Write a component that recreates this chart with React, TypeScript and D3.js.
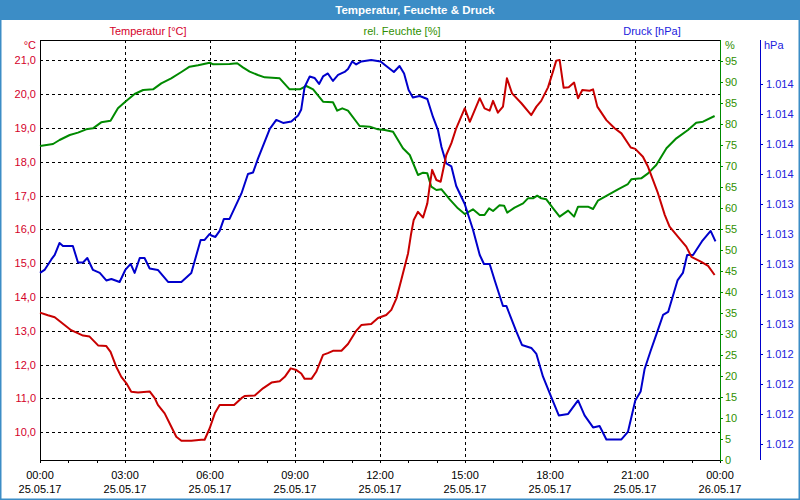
import React from "react";
import * as d3 from "d3";

// time in hours since 25.05.17 00:00, value
const temperature: [number, number][] = [
  [0,13.54],[0.28,13.46],[0.52,13.40],[1.10,13.02],[1.52,12.86],[1.75,12.83],[2.05,12.57],[2.34,12.55],[2.49,12.38],[2.69,11.94],[2.87,11.64],[3.05,11.45],[3.22,11.20],[3.46,11.18],[3.87,11.21],[4.05,11.01],[4.16,10.81],[4.40,10.56],[4.63,10.17],[4.81,9.87],[4.99,9.75],[5.34,9.75],[5.69,9.78],[5.81,9.78],[5.99,10.12],[6.17,10.56],[6.34,10.81],[6.85,10.81],[7.11,11.01],[7.22,11.07],[7.58,11.09],[7.87,11.30],[8.17,11.47],[8.46,11.51],[8.64,11.64],[8.85,11.89],[9.05,11.84],[9.22,11.74],[9.34,11.58],[9.58,11.58],[9.75,11.79],[9.99,12.29],[10.16,12.34],[10.34,12.41],[10.64,12.41],[10.87,12.61],[11.16,13.00],[11.34,13.17],[11.69,13.20],[11.93,13.38],[12.22,13.47],[12.40,13.62],[12.58,13.96],[12.75,14.50],[12.99,15.29],[13.10,15.88],[13.19,16.28],[13.34,16.52],[13.52,16.35],[13.67,16.77],[13.75,17.26],[13.84,17.76],[13.99,17.46],[14.14,17.41],[14.34,18.20],[14.52,18.55],[14.69,18.99],[14.99,19.58],[15.17,19.18],[15.52,19.88],[15.69,19.58],[15.87,19.51],[15.99,19.80],[16.16,19.45],[16.34,19.63],[16.48,20.47],[16.66,20.02],[16.99,19.73],[17.34,19.38],[17.52,19.63],[17.69,19.80],[17.93,20.20],[18.11,20.68],[18.22,20.99],[18.34,21.01],[18.48,20.19],[18.66,20.20],[18.85,20.34],[18.99,19.88],[19.14,20.12],[19.40,20.10],[19.52,20.14],[19.67,19.63],[19.99,19.23],[20.28,18.99],[20.52,18.84],[20.85,18.42],[21.01,18.38],[21.28,18.15],[21.46,17.85],[21.81,17.07],[22.05,16.43],[22.22,16.08],[22.52,15.78],[22.81,15.49],[22.99,15.19],[23.34,15.04],[23.58,14.92],[23.81,14.65]
];

const humidity: [number, number][] = [
  [0,74.76],[0.46,75.24],[0.69,76.19],[1.05,77.38],[1.34,77.94],[1.63,78.73],[1.87,78.97],[2.16,80.40],[2.49,80.79],[2.75,83.73],[3.01,85.32],[3.34,87.14],[3.64,88.10],[3.99,88.25],[4.28,89.68],[4.63,90.87],[4.99,92.38],[5.28,93.65],[5.58,93.97],[5.99,94.6],[6.11,94.21],[6.69,94.29],[6.96,94.45],[7.16,93.49],[7.40,92.46],[7.69,91.67],[7.93,91.11],[8.46,90.87],[8.81,88.25],[9.17,88.25],[9.40,89.05],[9.64,88.25],[9.99,85.32],[10.34,85.16],[10.49,83.17],[10.67,83.73],[10.87,83.17],[11.28,79.52],[11.64,79.37],[11.93,78.73],[12.17,78.57],[12.46,78.17],[12.81,74.21],[13.05,72.62],[13.34,67.86],[13.52,68.41],[13.67,68.25],[13.81,65.08],[13.99,64.29],[14.17,64.44],[14.46,62.06],[14.75,59.92],[14.99,58.57],[15.28,59.68],[15.52,58.33],[15.69,58.33],[15.85,59.92],[15.99,59.29],[16.22,60.63],[16.38,60.56],[16.49,58.89],[16.75,60.08],[17.05,61.11],[17.22,62.3],[17.40,62.3],[17.55,62.94],[17.69,62.3],[17.87,62.06],[18.11,59.92],[18.34,57.94],[18.64,59.37],[18.85,57.94],[18.99,60.32],[19.34,60.32],[19.52,59.76],[19.69,61.75],[19.99,62.86],[20.40,64.44],[20.75,65.71],[20.87,66.83],[21.22,67.06],[21.46,68.25],[21.75,70.24],[22.11,74.21],[22.46,76.59],[22.87,78.57],[23.16,80.32],[23.40,80.56],[23.81,81.9]
];

const pressure: [number, number][] = [
  [0,1012.94],[0.16,1012.96],[0.40,1013.03],[0.52,1013.06],[0.69,1013.14],[0.81,1013.12],[1.16,1013.12],[1.34,1013.01],[1.52,1013.01],[1.67,1013.04],[1.87,1012.96],[2.11,1012.94],[2.34,1012.89],[2.52,1012.90],[2.81,1012.88],[3.01,1012.96],[3.20,1013.0],[3.34,1012.94],[3.52,1013.04],[3.69,1013.04],[3.87,1012.97],[4.16,1012.96],[4.52,1012.88],[4.99,1012.88],[5.34,1012.94],[5.67,1013.16],[5.81,1013.16],[5.99,1013.20],[6.05,1013.19],[6.19,1013.18],[6.34,1013.22],[6.49,1013.30],[6.69,1013.30],[7.11,1013.47],[7.34,1013.60],[7.52,1013.61],[7.69,1013.70],[8.11,1013.90],[8.34,1013.96],[8.58,1013.94],[8.87,1013.95],[9.11,1013.99],[9.22,1014.03],[9.34,1014.18],[9.52,1014.25],[9.69,1014.24],[9.85,1014.20],[9.99,1014.25],[10.16,1014.27],[10.34,1014.22],[10.52,1014.26],[10.75,1014.28],[10.87,1014.30],[11.02,1014.35],[11.16,1014.33],[11.34,1014.35],[11.69,1014.36],[12.02,1014.35],[12.22,1014.32],[12.49,1014.28],[12.69,1014.32],[12.85,1014.27],[13.01,1014.16],[13.16,1014.11],[13.40,1014.12],[13.67,1014.10],[13.87,1013.98],[14.05,1013.89],[14.17,1013.78],[14.34,1013.67],[14.52,1013.65],[14.69,1013.52],[14.99,1013.40],[15.28,1013.23],[15.52,1013.06],[15.67,1013.00],[15.87,1013.00],[16.05,1012.89],[16.34,1012.72],[16.46,1012.72],[16.81,1012.55],[17.01,1012.46],[17.34,1012.44],[17.52,1012.40],[17.75,1012.25],[18.07,1012.10],[18.31,1011.99],[18.64,1012.00],[18.99,1012.09],[19.22,1011.99],[19.52,1011.91],[19.75,1011.92],[19.99,1011.83],[20.28,1011.83],[20.52,1011.83],[20.75,1011.88],[21.01,1012.09],[21.20,1012.15],[21.34,1012.30],[21.55,1012.42],[21.81,1012.56],[21.99,1012.66],[22.17,1012.68],[22.50,1012.89],[22.69,1012.94],[22.84,1013.06],[23.05,1013.06],[23.36,1013.15],[23.67,1013.22],[23.84,1013.15]
];

const tempTicks = [10, 11, 12, 13, 14, 15, 16, 17, 18, 19, 20, 21];
const humTicks = [0, 5, 10, 15, 20, 25, 30, 35, 40, 45, 50, 55, 60, 65, 70, 75, 80, 85, 90, 95];
const pressTicks = [1011.8, 1012.0, 1012.2, 1012.4, 1012.6, 1012.8, 1013.0, 1013.2, 1013.4, 1013.6, 1013.8, 1014.0, 1014.2];
const timeTicks = [0, 3, 6, 9, 12, 15, 18, 21, 24];
const timeLabels = ["00:00", "03:00", "06:00", "09:00", "12:00", "15:00", "18:00", "21:00", "00:00"];
const dateLabels = ["25.05.17", "25.05.17", "25.05.17", "25.05.17", "25.05.17", "25.05.17", "25.05.17", "25.05.17", "26.05.17"];
const hourTicks = d3.range(0, 25);

const title = "Temperatur, Feuchte & Druck";
const seriesNames = ["Temperatur [°C]", "rel. Feuchte [%]", "Druck [hPa]"];

const W = 800, H = 500;
const L = 40, R = 720, T = 40, B = 460;
const FONT = "'Liberation Sans', Arial, sans-serif";

const RED = "#c80000", GREEN = "#008a00", BLUE = "#0000cc";
const RED_T = "#d4002a", GREEN_T = "#2f8f00", BLUE_T = "#2222dd";

export default function App() {
  const x = d3.scaleLinear().domain([0, 24]).range([L, R]);
  const yT = d3.scaleLinear().domain([9.181, 21.6]).range([B, T]);
  const yH = d3.scaleLinear().domain([0, 100]).range([B, T]);
  const yP = d3.scaleLinear().domain([1011.693, 1014.493]).range([B, T]);

  const lineT = d3.line<[number, number]>().x(d => x(d[0])).y(d => yT(d[1]));
  const lineH = d3.line<[number, number]>().x(d => x(d[0])).y(d => yH(d[1]));
  const lineP = d3.line<[number, number]>().x(d => x(d[0])).y(d => yP(d[1]));

  const fmtT = (v: number) => v.toFixed(1).replace(".", ",");
  const fmtP = (v: number) => {
    const s = String(Math.round(v));
    return s.slice(0, s.length - 3) + "." + s.slice(-3);
  };

  return (
    <div style={{ position: "fixed", left: 0, top: 0 }}>
      <svg width={W} height={H} style={{ display: "block", fontFamily: FONT }}>
        <rect x={0} y={0} width={W} height={H} fill="#ffffff" />
        <rect x={0} y={0} width={W} height={20} fill="#3c8dc6" />
        <rect x={0.5} y={0.5} width={W - 1} height={H - 1} fill="none" stroke="#3c8dc6" strokeWidth={1} />
        <rect x={0} y={20} width={1.5} height={H - 20} fill="#3c8dc6" />
        <rect x={W - 1.5} y={20} width={1.5} height={H - 20} fill="#3c8dc6" />
        <rect x={0} y={H - 1.5} width={W} height={1.5} fill="#3c8dc6" />
        <text x={415} y={14} textAnchor="middle" fill="#ffffff" fontWeight="bold" fontSize={11.5}>{title}</text>

        {/* legend labels */}
        <text x={148} y={35} textAnchor="middle" fill={RED_T} fontSize={11}>{seriesNames[0]}</text>
        <text x={402} y={35} textAnchor="middle" fill={GREEN_T} fontSize={11}>{seriesNames[1]}</text>
        <text x={652} y={35} textAnchor="middle" fill={BLUE_T} fontSize={11}>{seriesNames[2]}</text>

        {/* units */}
        <text x={36} y={49} textAnchor="end" fill={RED_T} fontSize={11}>°C</text>
        <text x={725} y={49} fill={GREEN_T} fontSize={11}>%</text>
        <text x={764} y={49} fill={BLUE_T} fontSize={11}>hPa</text>

        {/* grid */}
        <g stroke="#000" strokeWidth={1} strokeDasharray="3,3">
          {tempTicks.map(t => (
            <line key={"h" + t} x1={L} x2={R} y1={Math.round(yT(t)) + 0.5} y2={Math.round(yT(t)) + 0.5} />
          ))}
          {timeTicks.slice(1, -1).map(t => (
            <line key={"v" + t} x1={Math.round(x(t)) + 0.5} x2={Math.round(x(t)) + 0.5} y1={T} y2={B} />
          ))}
        </g>

        {/* frame */}
        <line x1={L} x2={R} y1={T + 0.5} y2={T + 0.5} stroke="#000" />
        <line x1={L + 0.5} x2={L + 0.5} y1={T} y2={B} stroke="#000" />
        <line x1={L} x2={R} y1={B + 0.5} y2={B + 0.5} stroke="#000" />
        <line x1={R + 0.5} x2={R + 0.5} y1={T} y2={B + 1} stroke={GREEN} />
        <line x1={760.5} x2={760.5} y1={T} y2={B} stroke={BLUE} />

        {/* x ticks */}
        {hourTicks.map(h => (
          <line key={"xt" + h} x1={Math.round(x(h)) + 0.5} x2={Math.round(x(h)) + 0.5} y1={B} y2={B + 3} stroke="#000" />
        ))}
        {timeTicks.map((t, i) => (
          <g key={"xl" + i} fill="#000" fontSize={11} textAnchor="middle">
            <text x={x(t)} y={479}>{timeLabels[i]}</text>
            <text x={x(t)} y={493}>{dateLabels[i]}</text>
          </g>
        ))}

        {/* left axis labels */}
        {tempTicks.map(t => (
          <text key={"tl" + t} x={36} y={yT(t) + 4} textAnchor="end" fill={RED_T} fontSize={11}>{fmtT(t)}</text>
        ))}

        {/* humidity axis */}
        {humTicks.map(h => (
          <g key={"ha" + h}>
            <line x1={R} x2={R + 3} y1={Math.round(yH(h)) + 0.5} y2={Math.round(yH(h)) + 0.5} stroke={GREEN} />
            <text x={725} y={yH(h) + 4} fill={GREEN_T} fontSize={11}>{h}</text>
          </g>
        ))}

        {/* pressure axis */}
        {pressTicks.map(p => (
          <g key={"pa" + p}>
            <line x1={760} x2={763} y1={Math.round(yP(p)) + 0.5} y2={Math.round(yP(p)) + 0.5} stroke={BLUE} />
            <text x={766} y={yP(p) + 4} fill={BLUE_T} fontSize={11}>{fmtP(p)}</text>
          </g>
        ))}

        {/* series */}
        <path d={lineH(humidity) || ""} fill="none" stroke={GREEN} strokeWidth={2} strokeLinejoin="round" />
        <path d={lineP(pressure) || ""} fill="none" stroke={BLUE} strokeWidth={2} strokeLinejoin="round" />
        <path d={lineT(temperature) || ""} fill="none" stroke={RED} strokeWidth={2} strokeLinejoin="round" />
      </svg>
    </div>
  );
}
